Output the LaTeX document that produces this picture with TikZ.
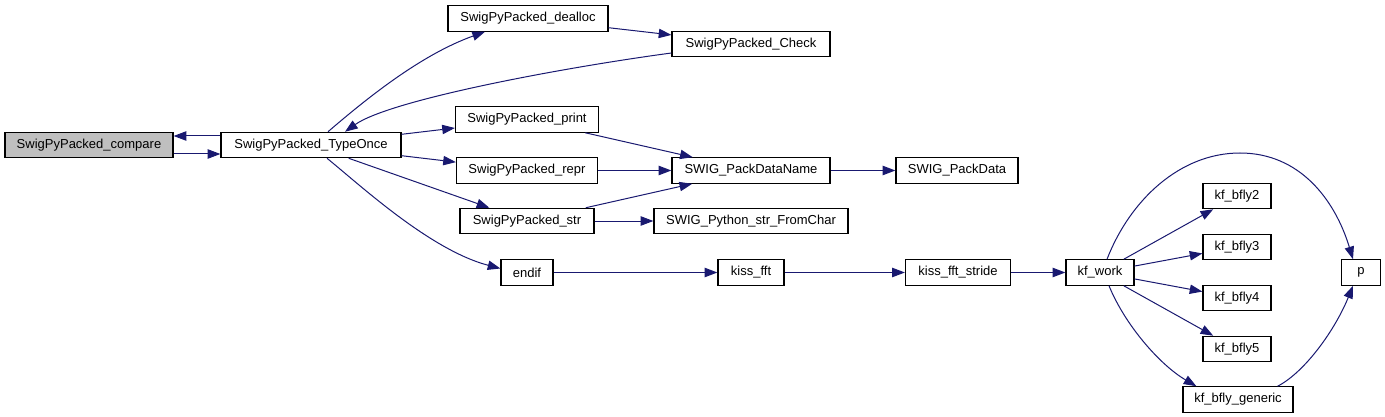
\documentclass[tikz,border=0pt]{standalone}
\usepackage{fontspec}
\setmainfont{Liberation Sans}
\usepackage{xcolor}
\usetikzlibrary{arrows.meta}
\definecolor{callblue}{HTML}{191970}
\definecolor{curgray}{HTML}{BFBFBF}

\begin{document}
\begin{tikzpicture}[
  x=0.75pt, y=-0.75pt,
  every node/.style={font=\fontsize{9.75}{11}\selectfont},
  fn/.style={rectangle, draw=black, line width=0.9pt, minimum height=19pt,
    inner xsep=0pt, text centered, fill=white},
  call/.style={->, draw=callblue, line width=0.75pt},
  >={Triangle[length=9.5pt, width=7pt]},
]
  \useasboundingbox (0,0) rectangle (1385,417);

  \node[fn, fill=curgray, minimum width=126pt] (compare) at (89,145) {SwigPyPacked\_compare};
  \node[fn, minimum width=135pt] (typeonce) at (311,145) {SwigPyPacked\_TypeOnce};
  \node[fn, minimum width=120pt] (dealloc) at (528,18.5) {SwigPyPacked\_dealloc};
  \node[fn, minimum width=118.5pt] (check) at (751,44) {SwigPyPacked\_Check};
  \node[fn, minimum width=107.25pt] (print) at (527,119.5) {SwigPyPacked\_print};
  \node[fn, minimum width=105.75pt] (repr) at (527,170.5) {SwigPyPacked\_repr};
  \node[fn, minimum width=100.5pt] (str) at (527,221) {SwigPyPacked\_str};
  \node[fn, minimum width=39pt] (endif) at (527,272.5) {endif};
  \node[fn, minimum width=118.5pt] (packname) at (751,170.5) {SWIG\_PackDataName};
  \node[fn, minimum width=91.5pt] (packdata) at (957,170.5) {SWIG\_PackData};
  \node[fn, minimum width=145.5pt] (fromchar) at (751,221) {SWIG\_Python\_str\_FromChar};
  \node[fn, minimum width=49.5pt] (kissfft) at (751,272.5) {kiss\_fft};
  \node[fn, minimum width=78.75pt] (stride) at (958,272.5) {kiss\_fft\_stride};
  \node[fn, minimum width=51pt] (kfwork) at (1100,272.5) {kf\_work};
  \node[fn, minimum width=51pt] (bfly2) at (1237,196) {kf\_bfly2};
  \node[fn, minimum width=51pt] (bfly3) at (1237,247) {kf\_bfly3};
  \node[fn, minimum width=51pt] (bfly4) at (1237,298) {kf\_bfly4};
  \node[fn, minimum width=51pt] (bfly5) at (1237,349) {kf\_bfly5};
  \node[fn, minimum width=82.5pt] (generic) at (1238,399.5) {kf\_bfly\_generic};
  \node[fn, minimum width=29.25pt] (p) at (1361,272.5) {p};

  \draw[call] ([yshift=6.75pt]typeonce.west) -- ([yshift=6.75pt]compare.east);
  \draw[call] ([yshift=-6.75pt]compare.east) -- ([yshift=-6.75pt]typeonce.west);
  \draw[call] ([xshift=12.75pt]typeonce.north) .. controls (365,100) and (420,55) .. ([xshift=-32.25pt]dealloc.south);
  \draw[call] (dealloc) -- (check);
  \draw[call] ([yshift=-6.75pt]check.west) .. controls (560,68) and (390,100) .. ([xshift=25.5pt]typeonce.north);
  \draw[call] (typeonce) -- (print);
  \draw[call] (typeonce) -- (repr);
  \draw[call] (typeonce) -- (str);
  \draw[call] ([xshift=12pt]typeonce.south) .. controls (360,185) and (430,250) .. ([yshift=3pt]endif.west);
  \draw[call] (print) -- (packname);
  \draw[call] (repr) -- (packname);
  \draw[call] (str) -- (packname);
  \draw[call] (str) -- (fromchar);
  \draw[call] (packname) -- (packdata);
  \draw[call] (endif) -- (kissfft);
  \draw[call] (kissfft) -- (stride);
  \draw[call] (stride) -- (kfwork);
  \draw[call] ([xshift=5.25pt]kfwork.north) .. controls (1130,200) and (1180,153) .. (1240,153)
    .. controls (1300,153) and (1335,200) .. ([xshift=-6pt]p.north);
  \draw[call] (kfwork) -- (bfly2);
  \draw[call] (kfwork) -- (bfly3);
  \draw[call] (kfwork) -- (bfly4);
  \draw[call] (kfwork) -- (bfly5);
  \draw[call] ([xshift=6.75pt]kfwork.south) .. controls (1125,325) and (1160,365) .. ([xshift=10.5pt]generic.north west);
  \draw[call] ([xshift=-12pt]generic.north east) .. controls (1305,372) and (1335,330) .. ([xshift=-6pt]p.south);
\end{tikzpicture}
\end{document}
